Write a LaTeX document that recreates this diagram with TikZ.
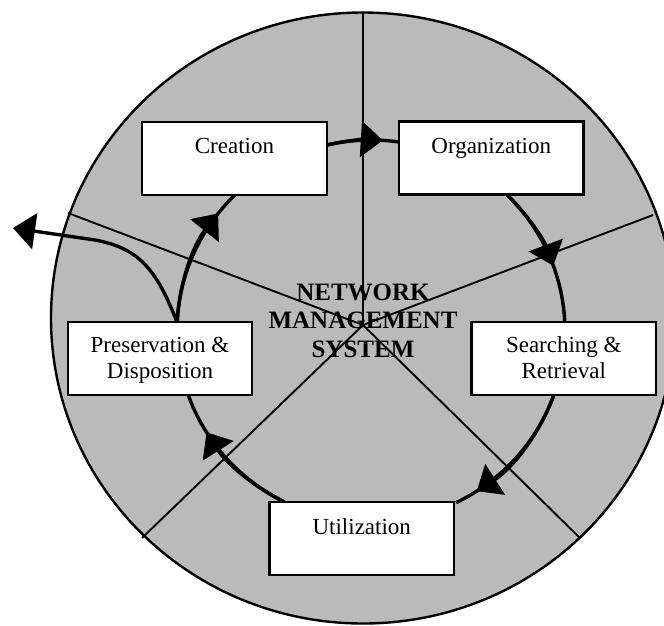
\documentclass[tikz,border=0pt]{standalone}
\usepackage{fontspec}
\setmainfont{Liberation Serif}
\usetikzlibrary{arrows.meta}

% one segment of the cycle: full arc plus an arrow head part way along it
% #1 start angle, #2 angle of the arrow tip, #3 end angle
\newcommand\flowarc[3]{%
  \draw[flow] (cyc) ++(#1:194 and 191)
    arc[start angle=#1, end angle=#3, x radius=194, y radius=191];
  \draw[tipped] (cyc) ++(#1:194 and 191)
    arc[start angle=#1, end angle=#2, x radius=194, y radius=191];
}

\begin{document}
\begin{tikzpicture}[x=1pt, y=-1pt,
  disc/.style={fill=black!27, draw=black, line width=2.4pt},
  spoke/.style={draw=black, line width=1.9pt},
  flow/.style={draw=black, line width=3.4pt},
  tipped/.style={flow, -{Triangle[length=22pt, width=36pt]}},
  stagebox/.style={draw=black, fill=white, line width=2.4pt, rectangle,
    inner sep=0pt, minimum width=184.5pt, minimum height=73pt},
  stagetext/.style={font=\fontsize{23}{26}\selectfont, anchor=base, inner sep=0pt},
  hubtext/.style={font=\fontsize{25}{28.5}\selectfont\bfseries, anchor=base, inner sep=0pt}]

\useasboundingbox (0,0) rectangle (664,625);
\clip (0,0) rectangle (664,625);

% background disc
\draw[disc] (363,318) ellipse [x radius=312, y radius=305.5];

% spokes from the hub to the rim
\coordinate (hub) at (363,325);
\coordinate (rimN) at (363,13);
\coordinate (rimE) at (653,215);
\coordinate (rimSE) at (580,538);
\coordinate (rimSW) at (142,538);
\coordinate (rimW) at (68,213);
\foreach \r in {rimN, rimE, rimSE, rimSW, rimW}
  \draw[spoke] (hub) -- (\r);

% centre of the life-cycle loop
\coordinate (cyc) at (371,331);
\flowarc{-103.1}{-86.5}{-81.7}
\flowarc{-45.6}{-20}{-2.7}
\flowarc{19.5}{57}{64}
\flowarc{116.5}{148}{160.7}
\flowarc{182.7}{218}{225.4}

% outgoing arrow leaving the system
\coordinate (presTop) at (177,322);
\coordinate (exit) at (13,228);
\draw[tipped] (presTop) .. controls (156,268) and (138,248) .. (95,240) -- (exit);

% stage boxes
\node[stagebox] (creation) at (234.5,158.5) {};
\node[stagebox] (organization) at (491.25,158) {};
\node[stagebox] (preservation) at (160,358.25) {};
\node[stagebox] (searching) at (563.8,358.3) {};
\node[stagebox] (utilization) at (361.75,538.5) {};

\node[stagetext] (creationtxt) at (234.5,153.5) {Creation};
\node[stagetext] (organizationtxt) at (491.25,153.5) {Organization};
\node[stagetext] (preservationtxtA) at (160,352.7) {Preservation \&};
\node[stagetext] (preservationtxtB) at (160,378.6) {Disposition};
\node[stagetext] (searchingtxtA) at (563.8,352.7) {Searching \&};
\node[stagetext] (searchingtxtB) at (563.8,378.6) {Retrieval};
\node[stagetext] (utilizationtxt) at (361.75,534) {Utilization};

% hub title
\node[hubtext] (hubA) at (363,300) {NETWORK};
\node[hubtext] (hubB) at (363,328) {MANAGEMENT};
\node[hubtext] (hubC) at (363,357) {SYSTEM};
\end{tikzpicture}
\end{document}
